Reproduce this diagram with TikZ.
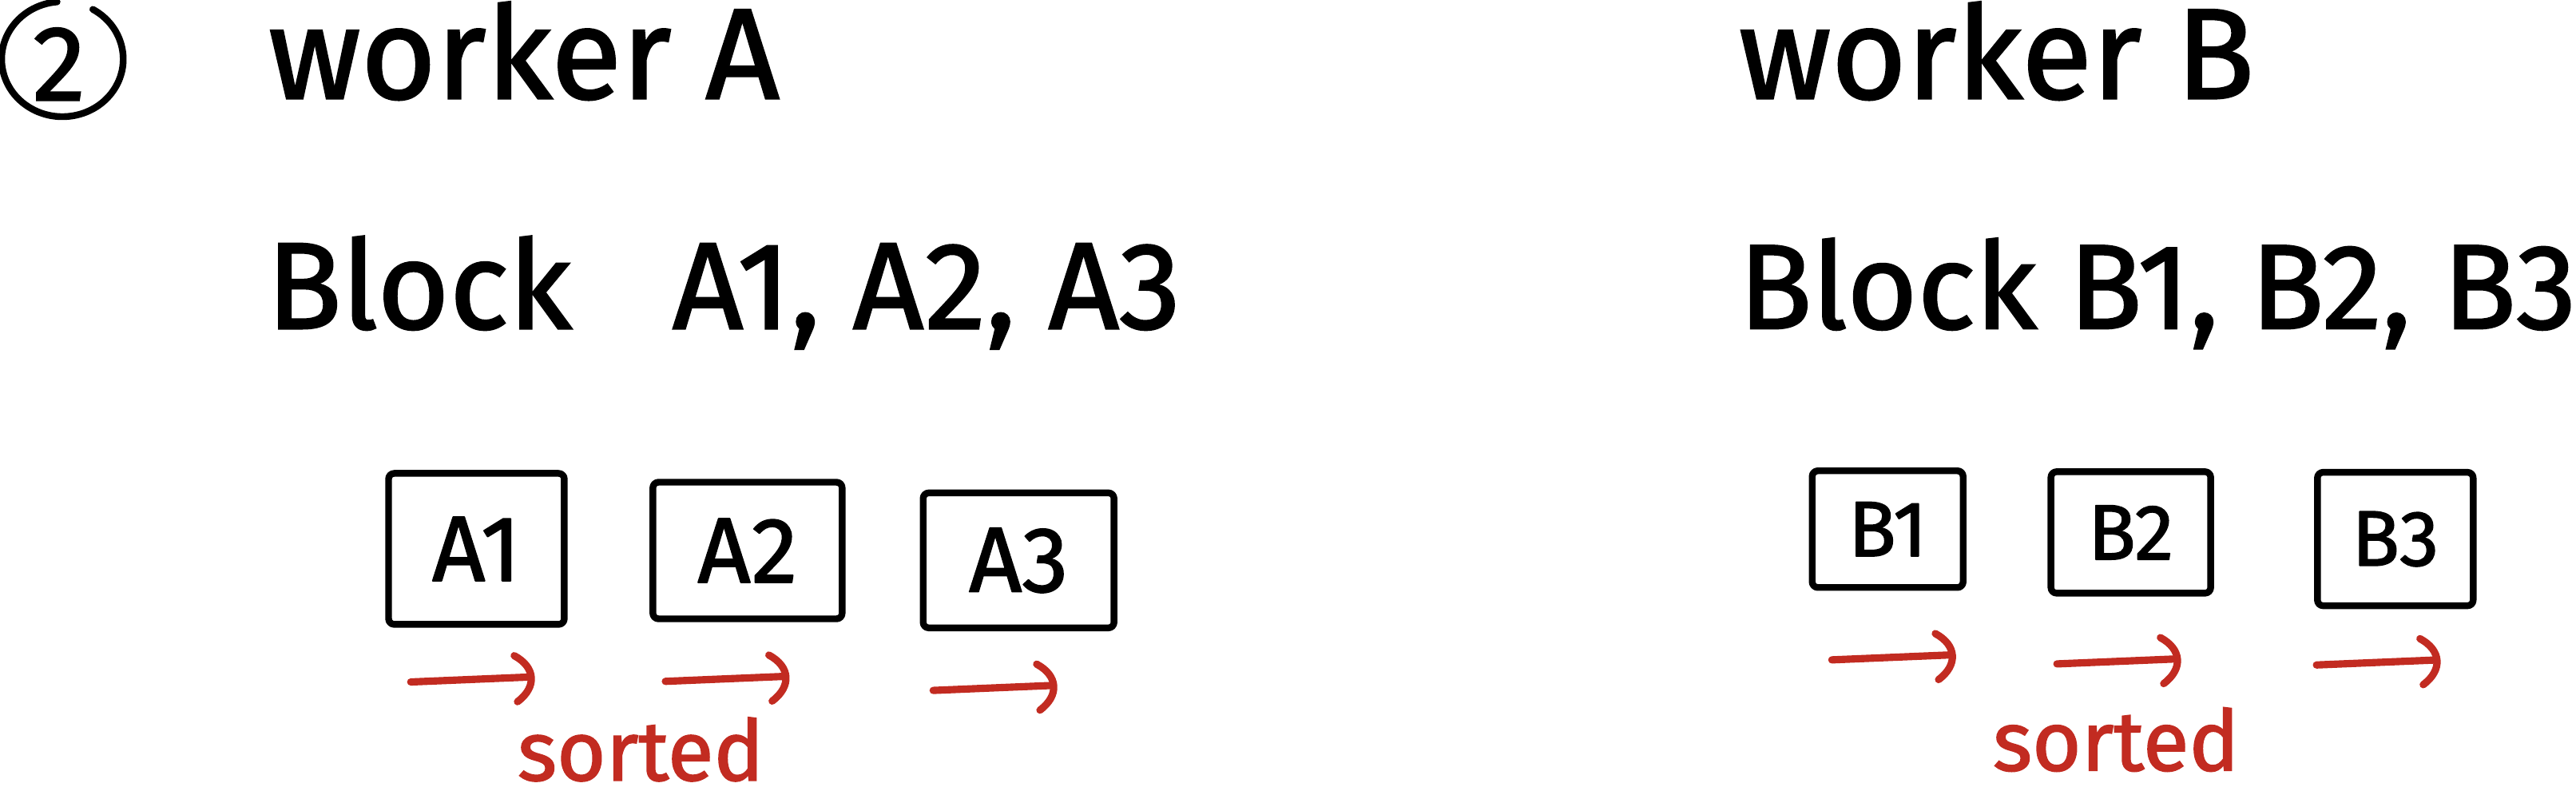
\documentclass[tikz,border=0pt]{standalone}
\usepackage{fontspec}
\setmainfont{Fira Sans}[FakeBold=1.5,AutoFakeBold=1.5]
\usetikzlibrary{calc}
\definecolor{pen}{HTML}{C22B21}
\begin{document}
\begin{tikzpicture}[x=0.2057mm,y=-0.2057mm,
  ink/.style={line width=2.4pt, line cap=round, line join=round},
  redink/.style={ink, draw=pen, line width=2.6pt},
  headtext/.style={font=\bfseries\fontsize{46}{52}\selectfont, anchor=base west, inner sep=0pt},
  blocktext/.style={headtext, font=\bfseries\fontsize{44}{50}\selectfont},
  blockbox/.style={draw, ink, rounded corners=2pt, inner sep=0pt, font=\bfseries\fontsize{33}{36}\selectfont},
  bbox/.style={blockbox, font=\bfseries\fontsize{28}{32}\selectfont},
  sortlabel/.style={text=pen, font=\bfseries\fontsize{30}{34}\selectfont, inner sep=0pt},
  harrow/.pic={\draw[redink] (0,0) -- (72,-3);
               \draw[redink] (63,-16) .. controls (76,-9) and (77,3) .. (65,12);}
]
\useasboundingbox (0,0) rectangle (1568,486);

% circled step number
\node[font=\bfseries\fontsize{38}{42}\selectfont, inner sep=0pt] (two) at (36,39) {2};
\draw[ink] ([shift={(300:37 and 35)}]38,36) arc[start angle=300, end angle=625, x radius=37, y radius=35];

% headings
\node[headtext] (wa) at (163,60) {worker A};
\node[headtext] (wb) at (1058,60) {worker B};
\node[blocktext] (ba) at (162,200) {Block\hspace{0.55em} A1, A2, A3};
\node[blocktext, font=\bfseries\fontsize{43}{50}\selectfont] (bb) at (1058,200) {Block B1, B2, B3};

% worker A blocks
\node[blockbox, minimum width=22.0mm, minimum height=18.9mm] (a1) at (290,334) {A1};
\node[blockbox, minimum width=23.7mm, minimum height=17.1mm] (a2) at (455,335) {A2};
\node[blockbox, minimum width=23.9mm, minimum height=16.9mm] (a3) at (620,341) {A3};

% worker B blocks
\node[bbox, minimum width=18.9mm, minimum height=14.6mm] (b1) at (1149,322) {B1};
\node[bbox, minimum width=20.0mm, minimum height=15.2mm] (b2) at (1297,324) {B2};
\node[bbox, minimum width=19.5mm, minimum height=16.7mm] (b3) at (1458,328) {B3};

% sorted arrows
\pic at ($(a1.south)+(-40,33)$) {harrow};
\pic at ($(a2.south)+(-50,36)$) {harrow};
\pic at ($(a3.south)+(-52,36)$) {harrow};
\pic at ($(b1.south)+(-34,42)$) {harrow};
\pic at ($(b2.south)+(-45,41)$) {harrow};
\pic at ($(b3.south)+(-48,34)$) {harrow};

\node[sortlabel] (sa) at (390,456) {sorted};
\node[sortlabel] (sb) at (1288,450) {sorted};
\end{tikzpicture}
\end{document}
